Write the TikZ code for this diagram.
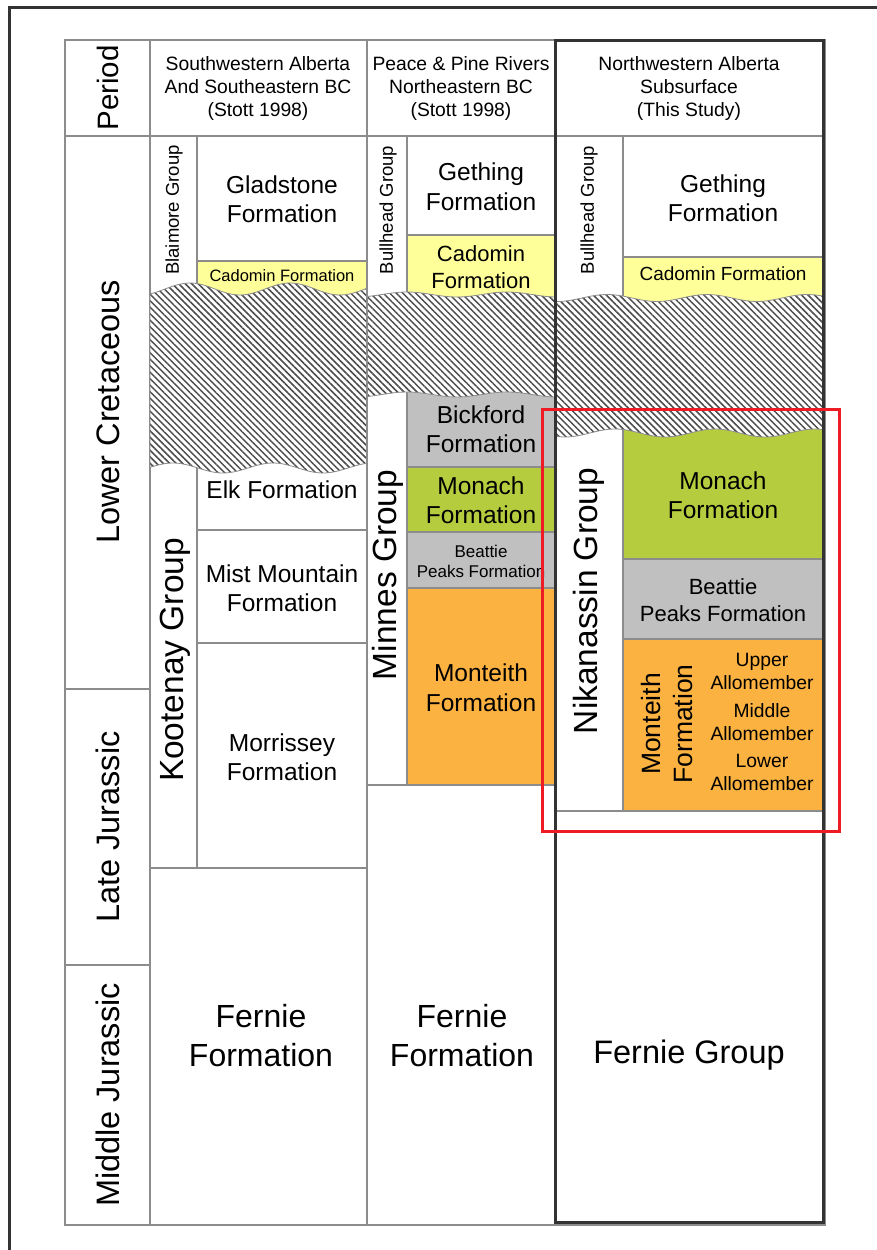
\documentclass[tikz,border=0pt]{standalone}
\usepackage{fontspec}
\setmainfont{Liberation Sans}
\usetikzlibrary{positioning,patterns.meta}
\definecolor{gridgray}{RGB}{140,140,140}
\definecolor{boxdark}{RGB}{51,51,51}
\definecolor{cadyellow}{RGB}{255,255,153}
\definecolor{monachgreen}{RGB}{181,204,62}
\definecolor{beatgray}{RGB}{192,192,192}
\definecolor{montorange}{RGB}{252,178,65}
\definecolor{studyred}{RGB}{237,28,36}
\newcommand{\fs}[2]{\fontsize{#1}{#2}\selectfont}
\begin{document}
\begin{tikzpicture}[x=1pt,y=-1pt,
  cell/.style={draw=gridgray,line width=1.5pt},
  lbl/.style={inner sep=0pt,align=center},
  vlbl/.style={lbl,rotate=90},
  hatch/.style={preaction={fill=white},pattern={Lines[angle=-45,distance=4.6pt,line width=1.5pt]},pattern color=black!70,draw=gridgray,line width=0.8pt}]
\useasboundingbox (0,0) rectangle (877,1250);
\draw[boxdark,line width=3pt] (9,1260) -- (9,7) -- (890,7);
\fill[cadyellow] (197,261) rectangle (367,300);
\fill[cadyellow] (407,235) rectangle (555,300);
\fill[cadyellow] (623,257) rectangle (823,305);
\fill[beatgray] (407,385) rectangle (555,467);
\fill[monachgreen] (407,467) rectangle (555,532);
\fill[beatgray] (407,532) rectangle (555,588);
\fill[montorange] (407,588) rectangle (555,785);
\fill[monachgreen] (623,425) rectangle (823,559);
\fill[beatgray] (623,559) rectangle (823,639);
\fill[montorange] (623,639) rectangle (823,811);
\draw[cell] (65,40) rectangle (825,1225);
\draw[cell] (65,136) -- (825,136) (150,40) -- (150,1225) (367,40) -- (367,1225) (555,40) -- (555,1225);
\draw[cell] (65,689) -- (150,689) (65,965) -- (150,965);
\draw[cell] (197,136) -- (197,868) (197,261) -- (367,261) (197,530) -- (367,530) (197,643) -- (367,643) (150,868) -- (367,868);
\draw[cell] (407,136) -- (407,785) (407,235) -- (555,235) (407,467) -- (555,467) (407,532) -- (555,532) (407,588) -- (555,588) (367,785) -- (555,785);
\draw[cell] (623,136) -- (623,811) (623,257) -- (823,257) (623,559) -- (823,559) (623,639) -- (823,639) (555,811) -- (823,811);
\path[hatch] plot[domain=150:367,samples=60] (\x,{289-6*sin(3.6*(\x-165))}) -- plot[domain=367:150,samples=60] (\x,{468-5*sin(3.6*(\x-148))}) -- cycle;
\path[hatch] plot[domain=367:555,samples=60] (\x,{294.5-2.5*sin(3.6*(\x-382))}) -- plot[domain=555:367,samples=60] (\x,{394.5-2.5*sin(3.6*(\x-382))}) -- cycle;
\path[hatch] plot[domain=555:823,samples=60] (\x,{298-3.5*sin(3.6*(\x-582))}) -- plot[domain=823:555,samples=60] (\x,{433-4*sin(3.6*(\x-690))}) -- cycle;
\draw[cell] (367,280) -- (367,480);
\draw[boxdark,line width=3pt] (555,40) rectangle (823,1222);
\node[lbl,font=\fs{19.3}{23}] (hdsouth) at (258,89) {Southwestern Alberta\\And Southeastern BC\\(Stott 1998)};
\node[lbl,font=\fs{19.3}{23}] (hdpeace) at (461,89) {Peace \& Pine Rivers\\Northeastern BC\\(Stott 1998)};
\node[lbl,font=\fs{19.3}{23}] (hdnorth) at (689,89) {Northwestern Alberta\\Subsurface\\(This Study)};
\node[vlbl,font=\fs{29.5}{35}] (period) at (108,88) {Period};
\node[vlbl,font=\fs{32.5}{38}] (lowcret) at (108,412) {Lower Cretaceous};
\node[vlbl,font=\fs{32.5}{38}] (latejur) at (108,827) {Late Jurassic};
\node[vlbl,font=\fs{32.5}{38}] (midjur) at (108,1095) {Middle Jurassic};
\node[vlbl,font=\fs{18.5}{22}] (blairmore) at (174,210) {Blaimore Group};
\node[vlbl,font=\fs{33.5}{38}] (kootenay) at (175,660) {Kootenay Group};
\node[lbl,font=\fs{24.5}{29}] (gladstone) at (282,199) {Gladstone\\Formation};
\node[lbl,font=\fs{16.5}{20}] (cadomina) at (282,276) {Cadomin Formation};
\node[lbl,font=\fs{24.5}{29}] (elk) at (282,490) {Elk Formation};
\node[lbl,font=\fs{24.5}{29}] (mistmtn) at (282,588) {Mist Mountain\\Formation};
\node[lbl,font=\fs{24.5}{29}] (morrissey) at (282,757) {Morrissey\\Formation};
\node[lbl,font=\fs{32}{39}] (ferniea) at (261,1036) {Fernie\\Formation};
\node[vlbl,font=\fs{18.5}{22}] (bullheadb) at (388,210) {Bullhead Group};
\node[vlbl,font=\fs{33.5}{38}] (minnes) at (388,575) {Minnes Group};
\node[lbl,font=\fs{24.5}{30}] (gethingb) at (481,187) {Gething\\Formation};
\node[lbl,font=\fs{22}{27}] (cadominb) at (481,267) {Cadomin\\Formation};
\node[lbl,font=\fs{24.5}{29}] (bickford) at (481,429) {Bickford\\Formation};
\node[lbl,font=\fs{24.5}{29}] (monachb) at (481,500) {Monach\\Formation};
\node[lbl,font=\fs{17}{20}] (beattieb) at (481,561) {Beattie\\Peaks Formation};
\node[lbl,font=\fs{24.5}{30}] (monteithb) at (481,688) {Monteith\\Formation};
\node[lbl,font=\fs{32}{39}] (fernieb) at (462,1036) {Fernie\\Formation};
\node[vlbl,font=\fs{18.5}{22}] (bullheadc) at (589,210) {Bullhead Group};
\node[vlbl,font=\fs{33.5}{38}] (nikanassin) at (589,601) {Nikanassin Group};
\node[lbl,font=\fs{24.5}{29}] (gethingc) at (723,198) {Gething\\Formation};
\node[lbl,font=\fs{19}{23}] (cadominc) at (723,274) {Cadomin Formation};
\node[lbl,font=\fs{24.5}{29}] (monachc) at (723,495) {Monach\\Formation};
\node[lbl,font=\fs{22}{27}] (beattiec) at (723,600) {Beattie\\Peaks Formation};
\node[vlbl,font=\fs{26.5}{32}] (monteithc) at (667,724) {Monteith\\Formation};
\node[lbl,font=\fs{19.3}{23}] (upperallo) at (762,671) {Upper\\Allomember};
\node[lbl,font=\fs{19.3}{23}] (middleallo) at (762,722) {Middle\\Allomember};
\node[lbl,font=\fs{19.3}{23}] (lowerallo) at (762,772) {Lower\\Allomember};
\node[lbl,font=\fs{32.5}{39}] (ferniec) at (689,1055) {Fernie Group};
\draw[studyred,line width=3pt] (542,409) rectangle (839,831);
\end{tikzpicture}
\end{document}
